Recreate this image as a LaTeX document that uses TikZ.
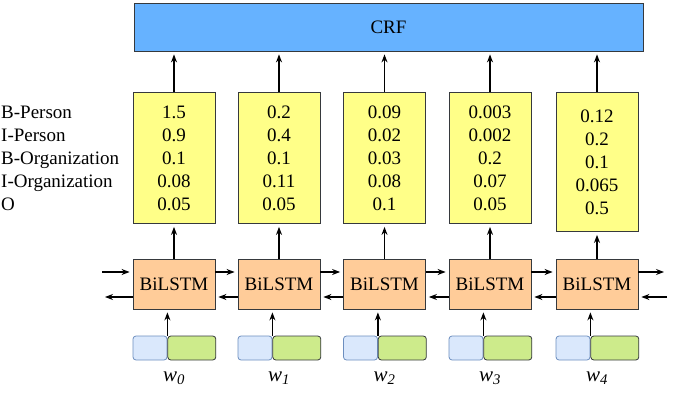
\documentclass[tikz,border=0pt]{standalone}
\usepackage{fontspec}
\setmainfont{Liberation Serif}
\usetikzlibrary{positioning,arrows.meta}

\definecolor{crfblue}{HTML}{66B2FF}
\definecolor{scoreyellow}{HTML}{FFFF88}
\definecolor{lstmorange}{HTML}{FFCC99}
\definecolor{charfill}{HTML}{DAE8FC}
\definecolor{charline}{HTML}{6C8EBF}
\definecolor{wordfill}{HTML}{CDEB8B}
\definecolor{boxline}{HTML}{36393D}

\begin{document}
\begin{tikzpicture}[x=1pt, y=-1pt, >={Stealth[length=8pt,width=6pt]},
    every node/.style={font=\fontsize{19}{23}\selectfont},
    crfbox/.style={draw=boxline, line width=0.8pt, fill=crfblue, minimum width=509pt, minimum height=48pt, inner sep=0pt},
    score/.style={draw=boxline, line width=0.8pt, fill=scoreyellow, minimum width=82pt, minimum height=131pt, inner sep=0pt, align=center},
    lstm/.style={draw=boxline, line width=0.8pt, fill=lstmorange, minimum width=82pt, minimum height=50pt, inner sep=0pt},
    charemb/.style={draw=charline, line width=0.8pt, fill=charfill, rounded corners=3pt, minimum width=34pt, minimum height=24pt, inner sep=0pt},
    wordemb/.style={draw=boxline, line width=0.8pt, fill=wordfill, rounded corners=3pt, minimum width=48pt, minimum height=24pt, inner sep=0pt},
    link/.style={->, line width=1.2pt, shorten >=3pt}]
    \useasboundingbox (0,0) rectangle (690,395);

    % CRF layer
    \node[crfbox] (crf) at (388.5, 27) {CRF};

    % tag names
    \node[anchor=west, align=left, inner sep=0pt] (tags) at (1, 158)
        {B-Person\\I-Person\\B-Organization\\I-Organization\\O};

    % emission scores
    \node[score] (S0) at (174, 158) {1.5\\0.9\\0.1\\0.08\\0.05};
    \node[score] (S1) at (279, 158) {0.2\\0.4\\0.1\\0.11\\0.05};
    \node[score] (S2) at (384.5, 158) {0.09\\0.02\\0.03\\0.08\\0.1};
    \node[score] (S3) at (490, 158) {0.003\\0.002\\0.2\\0.07\\0.05};
    \node[score, minimum height=139pt] (S4) at (597, 162) {0.12\\0.2\\0.1\\0.065\\0.5};

    \draw[link] (S0.north) -- (S0.north |- crf.south);
    \draw[link] (S1.north) -- (S1.north |- crf.south);
    \draw[link] (S2.north) -- (S2.north |- crf.south);
    \draw[link] (S3.north) -- (S3.north |- crf.south);
    \draw[link] (S4.north) -- (S4.north |- crf.south);

    % BiLSTM layer
    \node[lstm] (L0) at (174, 284) {BiLSTM};
    \node[lstm] (L1) at (279, 284) {BiLSTM};
    \node[lstm] (L2) at (384.5, 284) {BiLSTM};
    \node[lstm] (L3) at (490, 284) {BiLSTM};
    \node[lstm] (L4) at (597, 284) {BiLSTM};

    \draw[link] (L0.north) -- (S0.south);
    \draw[link] (L1.north) -- (S1.south);
    \draw[link] (L2.north) -- (S2.south);
    \draw[link] (L3.north) -- (S3.south);
    \draw[link] (L4.north) -- (S4.south);

    % forward and backward passes
    \coordinate (fwd_in) at (102, 272);
    \coordinate (bwd_out) at (102, 297);
    \coordinate (fwd_out) at (667, 272);
    \coordinate (bwd_in) at (667, 297);

    \draw[link] (fwd_in) -- (fwd_in -| L0.west);
    \draw[link] (bwd_out -| L0.west) -- (bwd_out);
    \draw[link] (fwd_in -| L0.east) -- (fwd_in -| L1.west);
    \draw[link] (bwd_out -| L1.west) -- (bwd_out -| L0.east);
    \draw[link] (fwd_in -| L1.east) -- (fwd_in -| L2.west);
    \draw[link] (bwd_out -| L2.west) -- (bwd_out -| L1.east);
    \draw[link] (fwd_in -| L2.east) -- (fwd_in -| L3.west);
    \draw[link] (bwd_out -| L3.west) -- (bwd_out -| L2.east);
    \draw[link] (fwd_in -| L3.east) -- (fwd_in -| L4.west);
    \draw[link] (bwd_out -| L4.west) -- (bwd_out -| L3.east);
    \draw[link] (fwd_in -| L4.east) -- (fwd_out);
    \draw[link] (bwd_in) -- (bwd_in -| L4.east);

    % word embeddings
    \node[charemb] (C0) at (150, 348) {};
    \node[wordemb, right=0pt of C0] (E0) {};
    \node[charemb] (C1) at (255, 348) {};
    \node[wordemb, right=0pt of C1] (E1) {};
    \node[charemb] (C2) at (360.5, 348) {};
    \node[wordemb, right=0pt of C2] (E2) {};
    \node[charemb] (C3) at (466, 348) {};
    \node[wordemb, right=0pt of C3] (E3) {};
    \node[charemb] (C4) at (573, 348) {};
    \node[wordemb, right=0pt of C4] (E4) {};

    \draw[link] (E0.north west) -- (E0.north west |- L0.south);
    \draw[link] (E1.north west) -- (E1.north west |- L1.south);
    \draw[link] (E2.north west) -- (E2.north west |- L2.south);
    \draw[link] (E3.north west) -- (E3.north west |- L3.south);
    \draw[link] (E4.north west) -- (E4.north west |- L4.south);

    % input words
    \node[font=\fontsize{21}{23}\selectfont] (w0) at (174, 378) {\textit{w}\textsubscript{\textit{0}}};
    \node[font=\fontsize{21}{23}\selectfont] (w1) at (279, 378) {\textit{w}\textsubscript{\textit{1}}};
    \node[font=\fontsize{21}{23}\selectfont] (w2) at (384.5, 378) {\textit{w}\textsubscript{\textit{2}}};
    \node[font=\fontsize{21}{23}\selectfont] (w3) at (490, 378) {\textit{w}\textsubscript{\textit{3}}};
    \node[font=\fontsize{21}{23}\selectfont] (w4) at (597, 378) {\textit{w}\textsubscript{\textit{4}}};
\end{tikzpicture}
\end{document}
